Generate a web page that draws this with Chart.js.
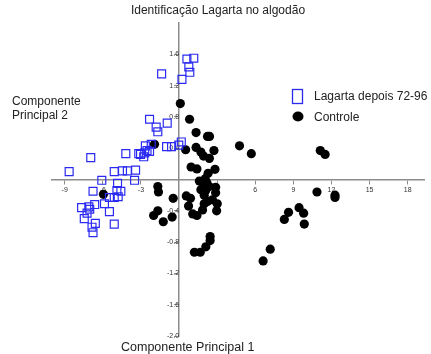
<!DOCTYPE html>
<html>
<head>
<meta charset="utf-8">
<script src="https://cdn.jsdelivr.net/npm/chart.js@4"></script>
<style>
  body { margin: 0; background: #fff; }
  canvas { display: block; }
</style>
</head>
<body>
<canvas id="pca" width="431" height="354"></canvas>
<script>
// Tick values shown on the axes (0 is not labelled)
const xTicks = [-9, -6, -3, 3, 6, 9, 12, 15, 18];
const yTicks = [-2.0, -1.6, -1.2, -0.8, -0.4, 0.4, 0.8, 1.2, 1.6];

// Lagarta depois 72-96 (blue squares), [PC1, PC2]
const lagartaX = [0.62, 1.16, 0.77, 0.85, -1.37, 0.23, -2.32, -1.8, -1.67, -0.93,
  0.18, -0.02, -0.98, -0.59, -2.65, -2.19, -3.03, -2.7, -2.52, -2.32,
  -2.78, -4.19, -6.95, -8.65, -5.1, -4.45, -4.07, -3.42, -3.5, -6.08,
  -4.84, -6.77, -4.89, -4.58, -5.48, -5.1, -4.79, -5.87, -6.64, -5.48,
  -7.67, -7.1, -7.03, -7.24, -7.46, -5.1, -6.59, -6.85, -6.77, -3.17];
const lagartaY = [1.54, 1.55, 1.44, 1.37, 1.35, 1.28, 0.77, 0.67, 0.61, 0.72,
  0.48, 0.44, 0.42, 0.42, 0.43, 0.45, 0.32, 0.34, 0.37, 0.36,
  0.29, 0.33, 0.28, 0.10, 0.10, 0.11, 0.11, 0.12, -0.01, -0.01,
  -0.05, -0.15, -0.14, -0.15, -0.23, -0.23, -0.22, -0.31, -0.32, -0.41,
  -0.36, -0.35, -0.38, -0.43, -0.50, -0.57, -0.56, -0.61, -0.68, 0.33];

// Controle (black dots)
const controleX = [0.1, 0.83, 1.34, 2.24, 2.4, -1.93, 0.52, 1.34, 1.72, 1.93,
  2.39, 2.75, 4.76, 5.69, 11.12, 11.5, 0.95, 1.41, 2.29, 2.83,
  1.6, 2.06, 2.19, 1.72, 2.1, 2.88, 2.88, -1.67, -1.62, -0.46,
  0.57, 0.9, 0.75, 1.98, 2.63, 3.01, 1.85, 2.96, 1.08, 1.41,
  -1.67, -2.0, -0.54, -1.24, 2.45, 2.45, 2.11, 1.21, 1.67, 6.62,
  7.18, 8.29, 8.62, 9.45, 9.81, 9.86, 10.86, 12.28, 12.28, -5.95,
  1.99, 2.37, 1.98, 2.24];
const controleY = [0.97, 0.77, 0.60, 0.55, 0.55, 0.45, 0.38, 0.41, 0.35, 0.30,
  0.27, 0.37, 0.43, 0.33, 0.37, 0.32, 0.16, 0.135, 0.08, 0.13,
  -0.02, 0.01, -0.04, -0.13, -0.14, -0.10, -0.17, -0.09, -0.16, -0.24,
  -0.21, -0.24, -0.34, -0.31, -0.26, -0.31, -0.39, -0.40, -0.44, -0.46,
  -0.40, -0.46, -0.48, -0.54, -0.73, -0.78, -0.86, -0.93, -0.93, -1.04,
  -0.89, -0.51, -0.42, -0.36, -0.43, -0.57, -0.16, -0.20, -0.23, -0.19,
  -0.07, -0.09, -0.20, -0.28];

const blue = "#2a2af2";
const axisGray = "#8c8c8c";
const FONT = "'Liberation Sans', Arial, Helvetica, sans-serif";

function toPoints(xs, ys) {
  return xs.map((x, i) => ({ x: x, y: ys[i] }));
}

/* ----------------------------
    Title, axis captions and the legend are drawn on top by hand
---------------------------- */
const captions = {
  id: "captions",
  afterDraw(chart) {
    const ctx = chart.ctx;
    ctx.save();
    ctx.fillStyle = "#222";
    ctx.textBaseline = "alphabetic";

    ctx.font = "12px " + FONT;
    ctx.textAlign = "center";
    ctx.fillText("Identificação Lagarta no algodão", 218, 14);

    ctx.textAlign = "left";
    ctx.fillText("Componente", 12, 105);
    ctx.fillText("Principal 2", 12, 119);

    ctx.font = "12.5px " + FONT;
    ctx.fillText("Componente Principal 1", 121, 351);

    // legend
    ctx.font = "12px " + FONT;
    ctx.strokeStyle = blue;
    ctx.lineWidth = 1.3;
    ctx.strokeRect(292.5, 89.5, 10, 14);
    ctx.fillText("Lagarta depois 72-96", 314, 100);
    ctx.beginPath();
    ctx.fillStyle = "#000";
    ctx.ellipse(298, 116.5, 5.5, 5, 0, 0, Math.PI * 2);
    ctx.fill();
    ctx.fillStyle = "#222";
    ctx.fillText("Controle", 314, 121);
    ctx.restore();
  },
};

function axisOptions(ticksArr, min, max, pos, fmt) {
  return {
    type: "linear",
    position: pos,
    min: min,
    max: max,
    afterBuildTicks: (scale) => {
      scale.ticks = ticksArr.map((v) => ({ value: v }));
    },
    grid: {
      drawOnChartArea: false,
      drawTicks: true,
      tickLength: 4,
      color: axisGray,
      lineWidth: 1,
    },
    border: { display: true, color: axisGray, width: 1.5 },
    ticks: {
      autoSkip: false,
      maxRotation: 0,
      padding: 2,
      color: "#333",
      font: { size: 7, family: FONT },
      callback: fmt,
    },
  };
}

const config = {
  type: "scatter",
  data: {
    datasets: [
      {
        label: "Lagarta depois 72-96",
        data: toPoints(lagartaX, lagartaY),
        pointStyle: "rect",
        pointRadius: 5.6,
        borderColor: blue,
        borderWidth: 1.2,
        backgroundColor: "rgba(0,0,0,0)",
      },
      {
        label: "Controle",
        data: toPoints(controleX, controleY),
        pointStyle: "circle",
        pointRadius: 4.6,
        borderWidth: 0,
        backgroundColor: "#000",
      },
    ],
  },
  options: {
    responsive: false,
    animation: false,
    layout: { padding: { left: 52, right: 0, top: 23, bottom: 18 } },
    plugins: {
      legend: { display: false },
      tooltip: { enabled: false },
    },
    scales: {
      x: axisOptions(xTicks, -10, 19.3, { y: 0 }, (v) => String(v)),
      y: axisOptions(yTicks, -2, 2, { x: 0 }, (v) => Number(v).toFixed(1)),
    },
  },
  plugins: [captions],
};

new Chart(document.getElementById("pca").getContext("2d"), config);
</script>
</body>
</html>
